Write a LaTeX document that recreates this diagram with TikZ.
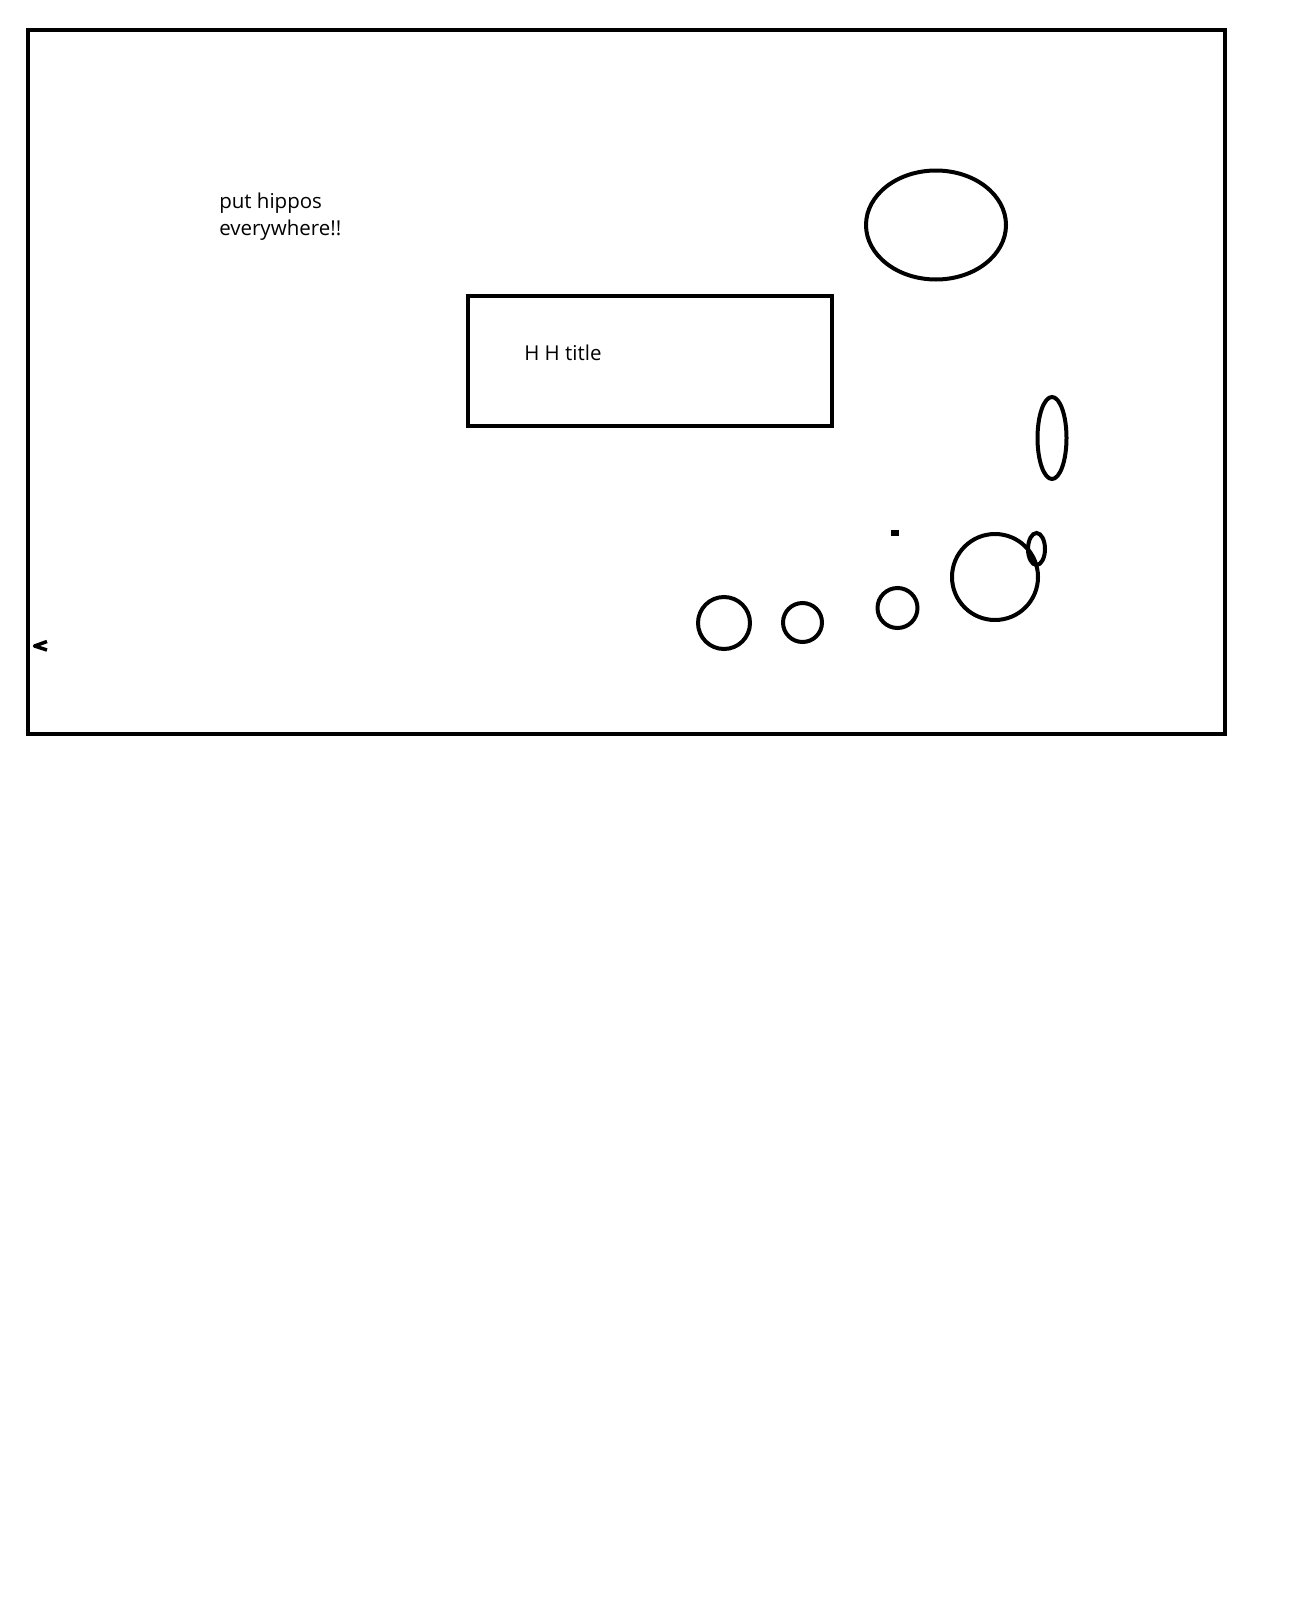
\documentclass[tikz,border=0pt]{standalone}
\usepackage{fontspec}
\setmainfont{Open Sans}
\begin{document}
\begin{tikzpicture}[x=1pt,y=-1pt,line width=4.5pt]
\useasboundingbox (0,0) rectangle (1314,1598);
\draw (28,30) rectangle (1225,734);
\draw[line width=4pt] (468,296) rectangle (832,426);

\node [anchor=base west, inner sep=0pt, align=left, font=\fontsize{20.5}{27}\selectfont] (hippos) at (217,235) {put hippos\\everywhere!!};

\node [anchor=base west, inner sep=0pt, font=\fontsize{20.5}{24}\selectfont] (title) at (522,360) {H H title};

\draw[line width=4pt] (936,225) ellipse [x radius=70pt, y radius=54.5pt];
\draw[line width=4pt] (1052,438) ellipse [x radius=14.5pt, y radius=41pt];
\fill (891,530) rectangle (899,536);
\draw[line width=4pt] (995,577) circle [radius=43pt];
\draw[line width=4pt] (1036.5,549) ellipse [x radius=8.5pt, y radius=16pt];
\draw[line width=4pt] (724,623) circle [radius=26pt];
\draw[line width=4pt] (802.5,622.5) circle [radius=19.5pt];
\draw[line width=4pt] (897.5,608) circle [radius=20pt];
\draw[line width=3.5pt, line join=round] (47,641.5) -- (34.5,646) -- (47,650);
\end{tikzpicture}
\end{document}
